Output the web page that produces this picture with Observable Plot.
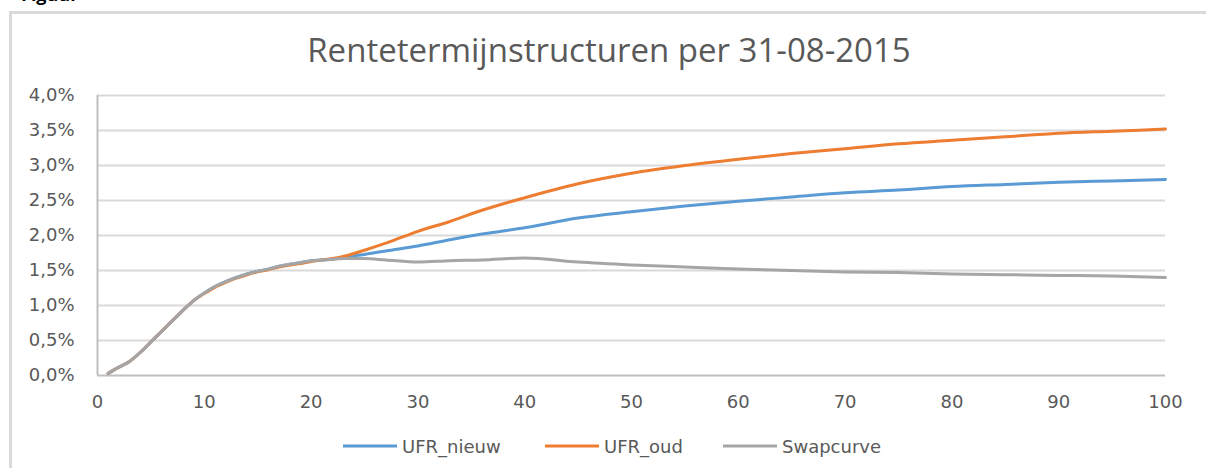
<!DOCTYPE html>
<html>
<head>
<meta charset="utf-8">
<script src="https://cdn.jsdelivr.net/npm/d3@7"></script>
<script src="https://cdn.jsdelivr.net/npm/@observablehq/plot@0.6"></script>
<style>
  html, body { margin: 0; padding: 0; background: #fff; overflow: hidden; }
  #wrap { position: relative; width: 1206px; height: 468px; }
  #frame { position: absolute; left: 9px; top: 11px; width: 1300px; height: 600px; border: 3px solid #d9d9d9; box-sizing: border-box; }
  #chart { position: absolute; left: 0; top: 0; }
  #overlay { position: absolute; left: 0; top: 0; pointer-events: none; }
</style>
</head>
<body>
<div id="wrap">
  <div id="frame"></div>
  <div id="chart"></div>
  <svg id="overlay" width="1206" height="468"></svg>
</div>
<script>
const title = "Rentetermijnstructuren per 31-08-2015";
const seriesNames = ["UFR_nieuw", "UFR_oud", "Swapcurve"];
const seriesColors = ["#5b9bd5", "#ed7d31", "#a5a5a5"];
const xTicks = [0, 10, 20, 30, 40, 50, 60, 70, 80, 90, 100];
const yTicks = [0, 0.5, 1, 1.5, 2, 2.5, 3, 3.5, 4];

const maturities = [1,2,3,4,5,6,7,8,9,10,11,12,13,14,15,16,17,18,19,20,21,22,23,25,27,30,33,36,40,45,50,55,60,65,70,75,80,85,90,95,100];

const swapcurve = [0.03,0.12,0.20,0.33,0.48,0.63,0.78,0.93,1.07,1.18,1.27,1.34,1.40,1.45,1.49,1.52,1.56,1.59,1.61,1.64,1.65,1.66,1.67,1.67,1.65,1.62,1.64,1.65,1.68,1.62,1.58,1.55,1.52,1.50,1.48,1.47,1.45,1.44,1.43,1.42,1.40];
const ufrOud = [0.03,0.12,0.20,0.33,0.48,0.63,0.78,0.93,1.07,1.17,1.26,1.33,1.39,1.44,1.48,1.51,1.55,1.58,1.60,1.63,1.65,1.67,1.70,1.79,1.89,2.06,2.20,2.36,2.54,2.74,2.89,3.00,3.09,3.17,3.24,3.31,3.36,3.41,3.46,3.49,3.52];
const ufrNieuw = [0.03,0.12,0.20,0.33,0.48,0.63,0.78,0.93,1.07,1.18,1.27,1.34,1.40,1.45,1.49,1.52,1.56,1.59,1.61,1.64,1.65,1.66,1.69,1.73,1.78,1.85,1.94,2.02,2.11,2.25,2.34,2.42,2.49,2.55,2.61,2.65,2.70,2.73,2.76,2.78,2.80];

const seriesValues = [ufrNieuw, ufrOud, swapcurve];
const data = [];
seriesNames.forEach((name, i) => {
  maturities.forEach((t, j) => data.push({series: name, t, v: seriesValues[i][j]}));
});

const fmtY = d => d.toFixed(1).replace(".", ",") + "%";

const chart = Plot.plot({
  width: 1206,
  height: 468,
  marginTop: 95,
  marginBottom: 93,
  marginLeft: 97,
  marginRight: 41,
  style: {fontFamily: "DejaVu Sans", fontSize: "18px", color: "#595959", background: "transparent", overflow: "visible"},
  x: {domain: [0, 100], label: null},
  y: {domain: [0, 4], label: null},
  color: {domain: seriesNames, range: seriesColors},
  marks: [
    Plot.gridY(yTicks.filter(d => d > 0), {stroke: "#d9d9d9", strokeOpacity: 1, strokeWidth: 2}),
    Plot.axisY(yTicks, {tickSize: 0, tickPadding: 23, tickFormat: fmtY, fill: "#595959", label: null}),
    Plot.axisX(xTicks, {tickSize: 0, tickPadding: 20, tickFormat: d => String(d), fill: "#595959", label: null}),
    Plot.ruleX([0], {stroke: "#bfbfbf", strokeWidth: 2}),
    Plot.ruleY([0], {stroke: "#bfbfbf", strokeWidth: 2}),
    Plot.line(data, {x: "t", y: "v", z: "series", stroke: "series", curve: "monotone-x", strokeWidth: 3})
  ]
});
document.getElementById("chart").appendChild(chart);

// overlay: figure label, title, legend
const ov = d3.select("#overlay");
ov.append("text").attr("x", 21).attr("y", 1).attr("font-family", "Open Sans").attr("font-weight", "bold")
  .attr("font-size", 18).attr("fill", "#000").text("Figuur");
ov.append("text").attr("x", 609).attr("y", 62).attr("text-anchor", "middle")
  .attr("font-family", "Open Sans").attr("font-size", 33).attr("fill", "#595959").text(title);

const legendLineX = [343, 545, 723];
seriesNames.forEach((name, i) => {
  const x0 = legendLineX[i];
  ov.append("line").attr("x1", x0).attr("x2", x0 + 54).attr("y1", 446).attr("y2", 446)
    .attr("stroke", seriesColors[i]).attr("stroke-width", 3);
  ov.append("text").attr("x", x0 + 59).attr("y", 452.5).attr("font-family", "DejaVu Sans")
    .attr("font-size", 18).attr("fill", "#595959").text(name);
});
</script>
</body>
</html>
